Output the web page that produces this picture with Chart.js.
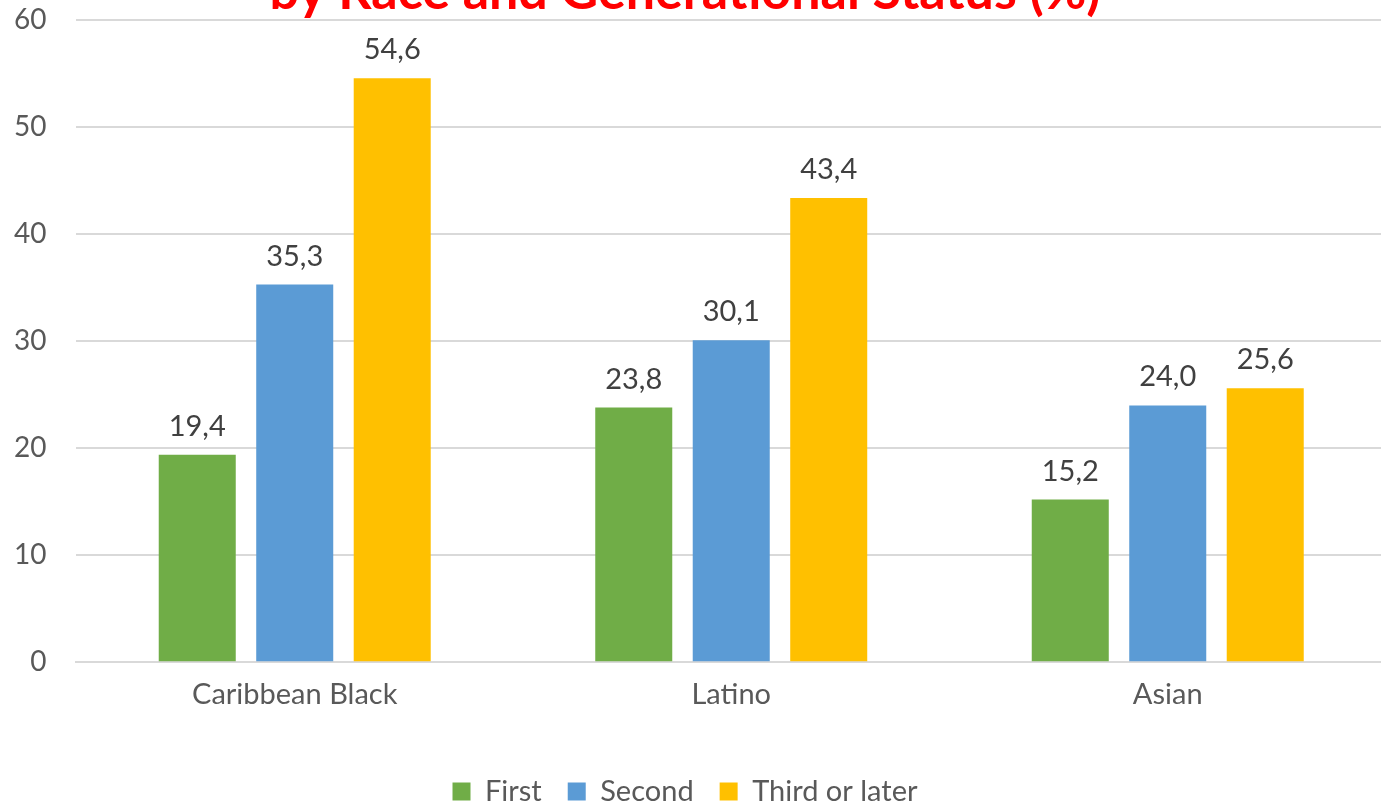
<!DOCTYPE html>
<html>
<head>
<meta charset="utf-8">
<script src="https://cdn.jsdelivr.net/npm/chart.js@4/dist/chart.umd.min.js"></script>
<style>
  html, body { margin: 0; padding: 0; background: #ffffff; overflow: hidden; }
  #wrap { position: absolute; left: 0; top: -35px; width: 1386px; height: 851px; }
</style>
</head>
<body>
<div id="wrap"><canvas id="c"></canvas></div>
<script>
const categories = ["Caribbean Black", "Latino", "Asian"];
const seriesNames = ["First", "Second", "Third or later"];
const firstGen = [19.4, 23.8, 15.2];
const secondGen = [35.3, 30.1, 24.0];
const thirdGen = [54.6, 43.4, 25.6];
const yTicks = [0, 10, 20, 30, 40, 50, 60];
const titleText = "by Race and Generational Status (%)";

const FONT = "Lato, 'Open Sans', sans-serif";

const valueLabels = {
  id: 'valueLabels',
  afterDatasetsDraw(chart) {
    const ctx = chart.ctx;
    ctx.save();
    ctx.font = "29px " + FONT;
    ctx.fillStyle = "#404040";
    ctx.textAlign = "center";
    ctx.textBaseline = "alphabetic";
    chart.data.datasets.forEach((ds, i) => {
      const meta = chart.getDatasetMeta(i);
      meta.data.forEach((el, j) => {
        const v = ds.data[j];
        ctx.fillText(v.toFixed(1).replace('.', ','), el.x, el.y - 19);
      });
    });
    ctx.restore();
  }
};

new Chart(document.getElementById('c'), {
  type: 'bar',
  data: {
    labels: categories,
    datasets: [
      { label: seriesNames[0], data: firstGen, backgroundColor: '#70AD47' },
      { label: seriesNames[1], data: secondGen, backgroundColor: '#5B9BD5' },
      { label: seriesNames[2], data: thirdGen, backgroundColor: '#FFC000' }
    ]
  },
  options: {
    responsive: true,
    maintainAspectRatio: false,
    animation: false,
    layout: { padding: { left: -16, right: 0, top: 0, bottom: 0 } },
    datasets: { bar: { categoryPercentage: 0.67, barPercentage: 0.79 } },
    plugins: {
      title: {
        display: true,
        text: titleText,
        color: '#FF0000',
        font: { family: FONT, size: 52, weight: 'bold', lineHeight: 1.065 },
        padding: { top: 0, bottom: 0 }
      },
      legend: {
        position: 'bottom',
        labels: {
          color: '#595959',
          font: { family: FONT, size: 29 },
          boxWidth: 18,
          boxHeight: 18,
          padding: 26
        }
      },
      tooltip: { enabled: false }
    },
    scales: {
      x: {
        grid: { display: false },
        border: { color: '#D9D9D9', width: 2 },
        ticks: { color: '#595959', font: { family: FONT, size: 29 }, padding: 7 },
        title: { display: true, text: ' ', font: { size: 20, lineHeight: 1.2 }, padding: { top: 0, bottom: 8 } },
        afterFit(axis) { axis.paddingLeft = 0; axis.paddingRight = 0; }
      },
      y: {
        min: 0,
        max: 60,
        afterBuildTicks(axis) { axis.ticks = yTicks.map(v => ({ value: v })); },
        grid: { color: '#D9D9D9', lineWidth: 2, drawTicks: false },
        border: { display: false },
        ticks: { color: '#595959', font: { family: FONT, size: 28 }, padding: 30 }
      }
    }
  },
  plugins: [valueLabels]
});
</script>
</body>
</html>
